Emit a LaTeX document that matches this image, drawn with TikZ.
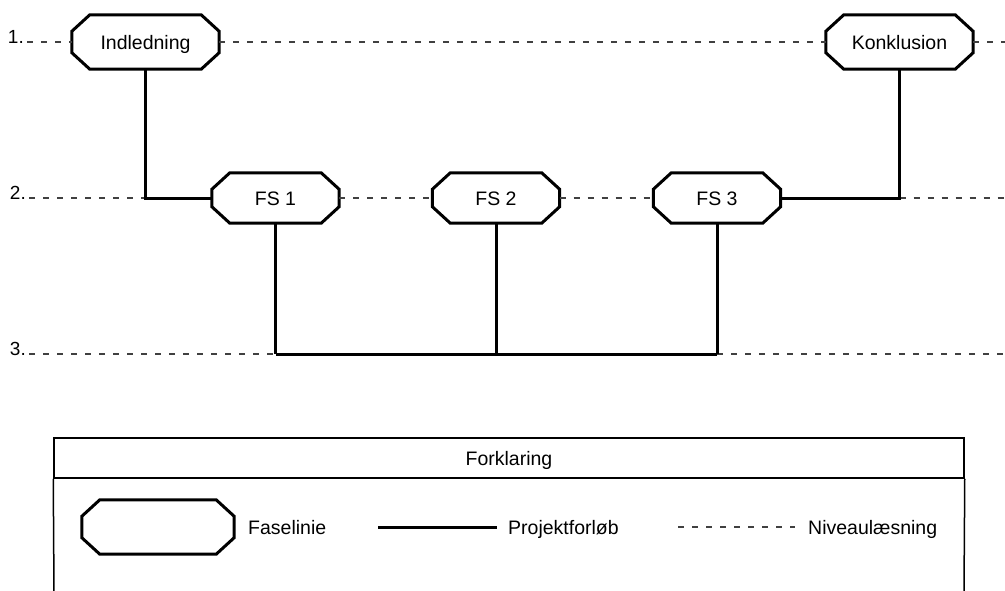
\documentclass[tikz,border=0pt]{standalone}
\usepackage{fontspec}
\setmainfont{Liberation Sans}
\usetikzlibrary{calc}
\begin{document}
\begin{tikzpicture}[x=1pt,y=-1pt,
  lbl/.style={inner sep=0pt,text height=14pt,text depth=0pt,font=\fontsize{19.5}{23}\selectfont},
  lvl/.style={inner sep=0pt,anchor=base east,font=\fontsize{19}{22}\selectfont},
  fase/.style={lbl,minimum width=#1,minimum height=54pt},
  fs/.style={lbl,minimum width=127pt,minimum height=50pt},
  oct/.style={line width=3pt,line join=miter},
  forl/.style={line width=3pt},
  niv/.style={line width=1.1pt,black!75,dash pattern=on 6pt off 8pt},
  frame/.style={line width=1.5pt}]
\useasboundingbox (0,0) rectangle (1005,590);

% phase nodes
\node[fase=147pt] (ind) at (145.5,42) {Indledning};
\node[fase=147pt] (kon) at (899.5,42) {Konklusion};
\node[fs] (fs1) at (275.5,198) {FS 1};
\node[fs] (fs2) at (496,198) {FS 2};
\node[fs] (fs3) at (717,198) {FS 3};
\node[fase=152pt] (leg) at (158,527) {};

\foreach \n in {ind,kon,fs1,fs2,fs3,leg}{
  \draw[oct] ($(\n.north west)+(18,0)$) -- ($(\n.north east)+(-18,0)$)
    -- ($(\n.north east)+(0,16.5)$) -- ($(\n.south east)+(0,-16.5)$)
    -- ($(\n.south east)+(-18,0)$) -- ($(\n.south west)+(18,0)$)
    -- ($(\n.south west)+(0,-16.5)$) -- ($(\n.north west)+(0,16.5)$) -- cycle;
}

% level labels
\node[lvl] (n1) at (24,43) {1.};
\node[lvl] (n2) at (26,199) {2.};
\node[lvl] (n3) at (26,355) {3.};

\coordinate (a1) at (27,42);
\coordinate (b1) at (1005,42);
\coordinate (a2) at (29,198);
\coordinate (b2) at (1005,198);
\coordinate (a3) at (29,354);
\coordinate (b3) at (1005,354);
\coordinate (j1) at (ind.south |- fs1.west);
\coordinate (j2) at (kon.south |- fs3.east);
\coordinate (t1) at (fs1.south |- a3);
\coordinate (t2) at (fs2.south |- a3);
\coordinate (t3) at (fs3.south |- a3);

% level reading (dashed)
\draw[niv] (a1) -- (ind.west);
\draw[niv] (ind.east) -- (kon.west);
\draw[niv] (kon.east) -- (b1);
\draw[niv] (a2) -- (j1);
\draw[niv] (fs1.east) -- (fs2.west);
\draw[niv] (fs2.east) -- (fs3.west);
\draw[niv] (j2) -- (b2);
\draw[niv] (a3) -- (t1);
\draw[niv] (t3) -- (b3);

% project flow (solid)
\draw[forl] (ind.south) -- (j1) -- (fs1.west);
\draw[forl] (kon.south) -- (j2) -- (fs3.east);
\draw[forl] (fs1.south) -- (t1);
\draw[forl] (fs2.south) -- (t2);
\draw[forl] (fs3.south) -- (t3);
\draw[forl] (t1) -- (t3);

% legend
\node[lbl,draw,frame,minimum width=910pt,minimum height=40pt] (hdr) at (509,458) {Forklaring};
\coordinate (bl) at (54,592);
\coordinate (br) at (964,592);
\draw[frame] (hdr.south west) -- (bl);
\draw[frame] (hdr.south east) -- (br);
\node[lbl,anchor=west] (tf) at (248,527) {Faselinie};
\coordinate (ps) at (378,527);
\coordinate (pe) at (497,527);
\draw[forl] (ps) -- (pe);
\node[lbl,anchor=west] (tp) at (508,527) {Projektforløb};
\coordinate (ds) at (678,527);
\coordinate (de) at (795,527);
\draw[niv] (ds) -- (de);
\node[lbl,anchor=west] (tn) at (808,527) {Niveaulæsning};
\end{tikzpicture}
\end{document}
